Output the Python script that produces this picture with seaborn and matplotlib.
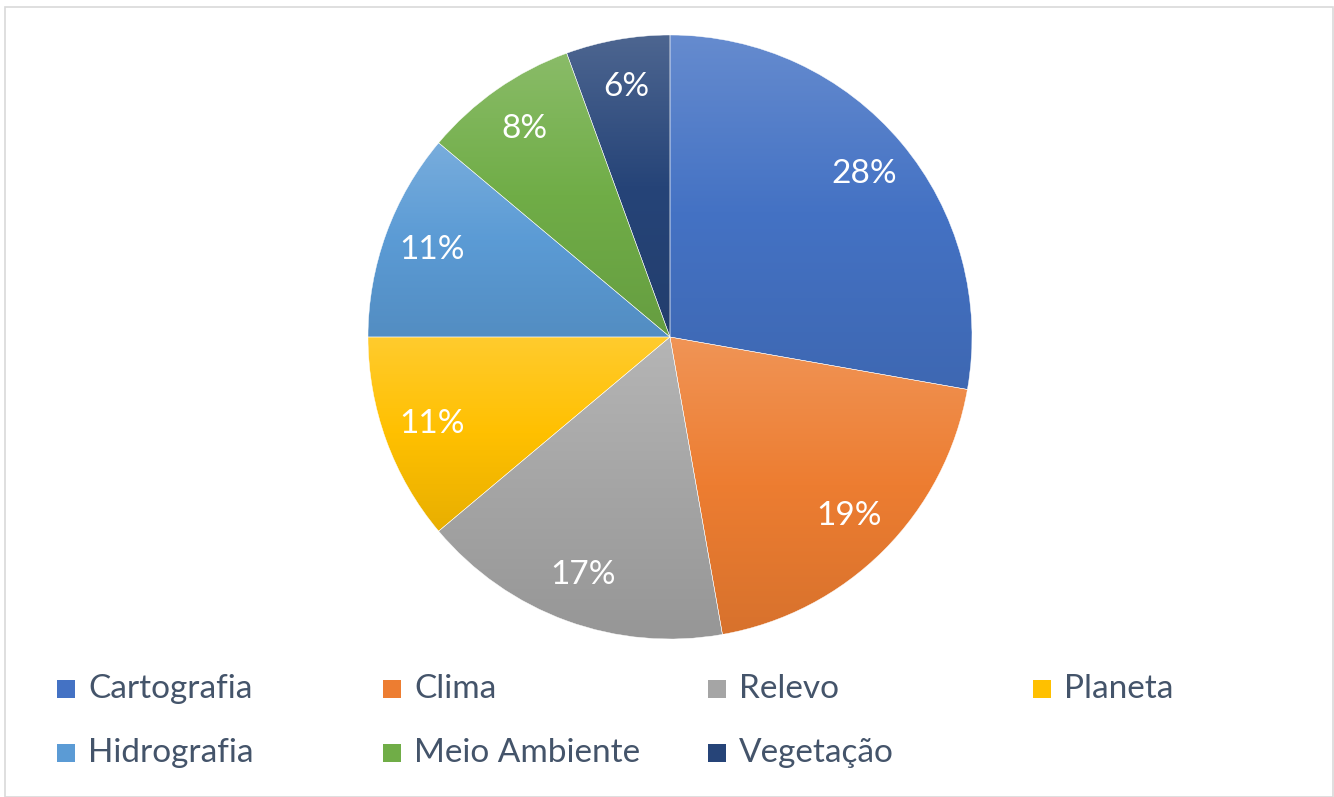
import matplotlib
matplotlib.use("Agg")

import matplotlib.pyplot as plt  # noqa: E402
import matplotlib.colors as mcolors  # noqa: E402
from matplotlib.patches import Rectangle  # noqa: E402
import numpy as np  # noqa: E402
import seaborn as sns  # noqa: E402

# ---------------------------------------------------------------------------
# Data (counts per theme; labels show share of total)
# ---------------------------------------------------------------------------
categories = ["Cartografia", "Clima", "Relevo", "Planeta",
              "Hidrografia", "Meio Ambiente", "Vegetação"]
counts = [10, 7, 6, 4, 4, 3, 2]
colors = ["#4472C4", "#ED7D31", "#A5A5A5", "#FFC000",
          "#5B9BD5", "#70AD47", "#264478"]

sns.set_theme(style="white")
plt.rcParams["font.family"] = ["Lato", "DejaVu Sans"]

W, H = 1334, 797
fig = plt.figure(figsize=(W / 100, H / 100), dpi=100)
fig.patch.set_facecolor("white")

# pie centre / radius in pixels
cx, cy, r = 670, 337, 302
ax = fig.add_axes([(cx - r) / W, (H - cy - r) / H, 2 * r / W, 2 * r / H])

wedges, texts, autotexts = ax.pie(
    counts,
    colors=colors,
    startangle=90,
    counterclock=False,
    radius=1,
    autopct=lambda p: f"{p:.0f}%",
    pctdistance=0.84,
    wedgeprops=dict(linewidth=0.3, edgecolor="white"),
    textprops=dict(color="white", fontsize=24),
)


def shade(c, f):
    """f > 0 lightens toward white, f < 0 darkens."""
    rgb = np.array(mcolors.to_rgb(c))
    return rgb + (1 - rgb) * f if f >= 0 else rgb * (1 + f)


# Excel-like vertical gradient inside every wedge
grad = np.linspace(0, 1, 256).reshape(-1, 1)
for w, c in zip(wedges, colors):
    bb = w.get_path().get_extents(w.get_patch_transform())
    cmap = mcolors.LinearSegmentedColormap.from_list(
        "g", [shade(c, -0.09), mcolors.to_rgb(c), shade(c, 0.18)]
    )
    ax.imshow(grad, cmap=cmap, origin="lower", aspect="auto",
              extent=(bb.x0, bb.x1, bb.y0, bb.y1), clip_path=w,
              zorder=0.5, interpolation="bilinear")
    w.set_facecolor("none")
    w.set_zorder(1)

ax.set_xlim(-1, 1)
ax.set_ylim(-1, 1)
ax.axis("off")

# legend laid out like the original (4 columns, 2 rows)
col_x = [57, 383, 708, 1033]
row_y = [689, 753]
for i, (name, c) in enumerate(zip(categories, colors)):
    x = col_x[i % 4]
    y = row_y[i // 4]
    fig.patches.append(Rectangle((x / W, (H - y - 9) / H), 18 / W, 18 / H,
                                 transform=fig.transFigure, facecolor=c,
                                 edgecolor="none"))
    fig.text((x + 31) / W, (H - y) / H, name, ha="left", va="center",
             fontsize=24, color="#44546A")

# thin chart-area border
fig.patches.append(Rectangle((5 / W, 0), (W - 6) / W, (H - 7) / H,
                             transform=fig.transFigure, facecolor="none",
                             edgecolor="#D9D9D9", linewidth=1.2))

fig.savefig("out.png", dpi=100)
plt.close(fig)
